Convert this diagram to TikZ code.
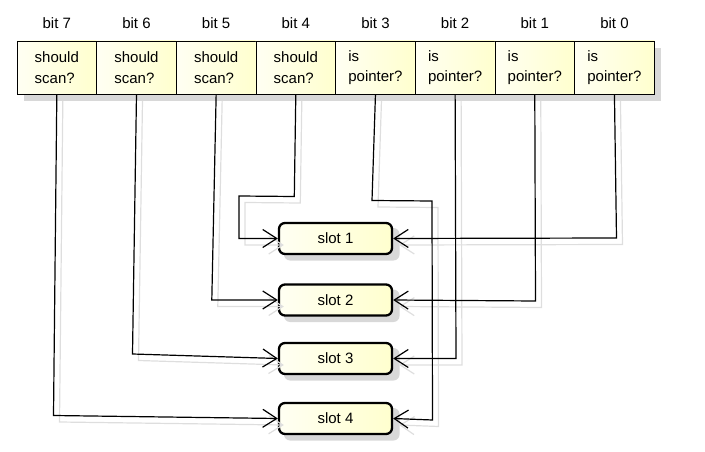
\documentclass[tikz,border=0pt]{standalone}
\usepackage{fontspec}
\setmainfont{Liberation Sans}
\usetikzlibrary{arrows.meta}
\definecolor{cellfill}{RGB}{255,255,206}
\definecolor{shadowgray}{RGB}{216,216,216}
\definecolor{lineshadow}{RGB}{222,222,222}
\begin{document}
\begin{tikzpicture}[x=1pt,y=-1pt,
  every node/.style={font=\fontsize{15pt}{20.5pt}\selectfont},
  cellbox/.style={draw, line width=0.9pt, minimum width=79.66pt, minimum height=53pt,
    inner sep=0pt, align=left, left color=cellfill!25!white, right color=cellfill},
  bitlabel/.style={anchor=base, inner sep=0pt},
  slotbox/.style={draw, line width=2.3pt, rounded corners=6pt, minimum width=113pt,
    minimum height=31pt, inner sep=0pt, left color=cellfill!25!white, right color=cellfill},
  conn/.style={draw=black, line width=1.2pt, -{Straight Barb[length=14pt,width=18pt]}},
  connsh/.style={draw=lineshadow, line width=1.2pt, -{Straight Barb[length=14pt,width=18pt]},
    transform canvas={xshift=6pt,yshift=-6.5pt}}]
\useasboundingbox (0,0) rectangle (705,452);

% shadows of the cell row and the slots
\fill[shadowgray] (24,48) rectangle (661.3,101);
\foreach \y in {238.5,300,358.5,418.5}
  \fill[shadowgray, rounded corners=6pt] (284,\y-10.5) rectangle (399.5,\y+22);

% cells
\node[cellbox] (c7) at (56.83,67.5) {should\\scan?};
\node[cellbox] (c6) at (136.49,67.5) {should\\scan?};
\node[cellbox] (c5) at (216.15,67.5) {should\\scan?};
\node[cellbox] (c4) at (295.81,67.5) {should\\scan?};
\node[cellbox] (c3) at (375.47,67.5) {is\\pointer?};
\node[cellbox] (c2) at (455.13,67.5) {is\\pointer?};
\node[cellbox] (c1) at (534.79,67.5) {is\\pointer?};
\node[cellbox] (c0) at (614.45,67.5) {is\\pointer?};

% bit labels
\node[bitlabel] (b7) at (56.83,29) {bit 7};
\node[bitlabel] (b6) at (136.49,29) {bit 6};
\node[bitlabel] (b5) at (216.15,29) {bit 5};
\node[bitlabel] (b4) at (295.81,29) {bit 4};
\node[bitlabel] (b3) at (375.47,29) {bit 3};
\node[bitlabel] (b2) at (455.13,29) {bit 2};
\node[bitlabel] (b1) at (534.79,29) {bit 1};
\node[bitlabel] (b0) at (614.45,29) {bit 0};

% slots
\node[slotbox] (s1) at (335.5,238.5) {slot 1};
\node[slotbox] (s2) at (335.5,300) {slot 2};
\node[slotbox] (s3) at (335.5,358.5) {slot 3};
\node[slotbox] (s4) at (335.5,418.5) {slot 4};

% connectors: shadows first
\newcommand\mypaths[1]{%
  \draw[#1] (c7.south) -- (53.5,415.5) -- (s4.west);
  \draw[#1] (c6.south) -- (132.5,354) -- (s3.west);
  \draw[#1] (c5.south) -- (211.8,300) -- (s2.west);
  \draw[#1] (c4.south) -- (294.3,196.5) -- (239,196) -- (239,238.5) -- (s1.west);
  \draw[#1] (c3.south) -- (372,200.5) -- (432,201) -- (432.5,420) -- (s4.east);
  \draw[#1] (c2.south) -- (456,358.5) -- (s3.east);
  \draw[#1] (c1.south) -- (535.5,301) -- (s2.east);
  \draw[#1] (c0.south) -- (616.5,238) -- (s1.east);
}
\mypaths{connsh}
\mypaths{conn}
\end{tikzpicture}
\end{document}
